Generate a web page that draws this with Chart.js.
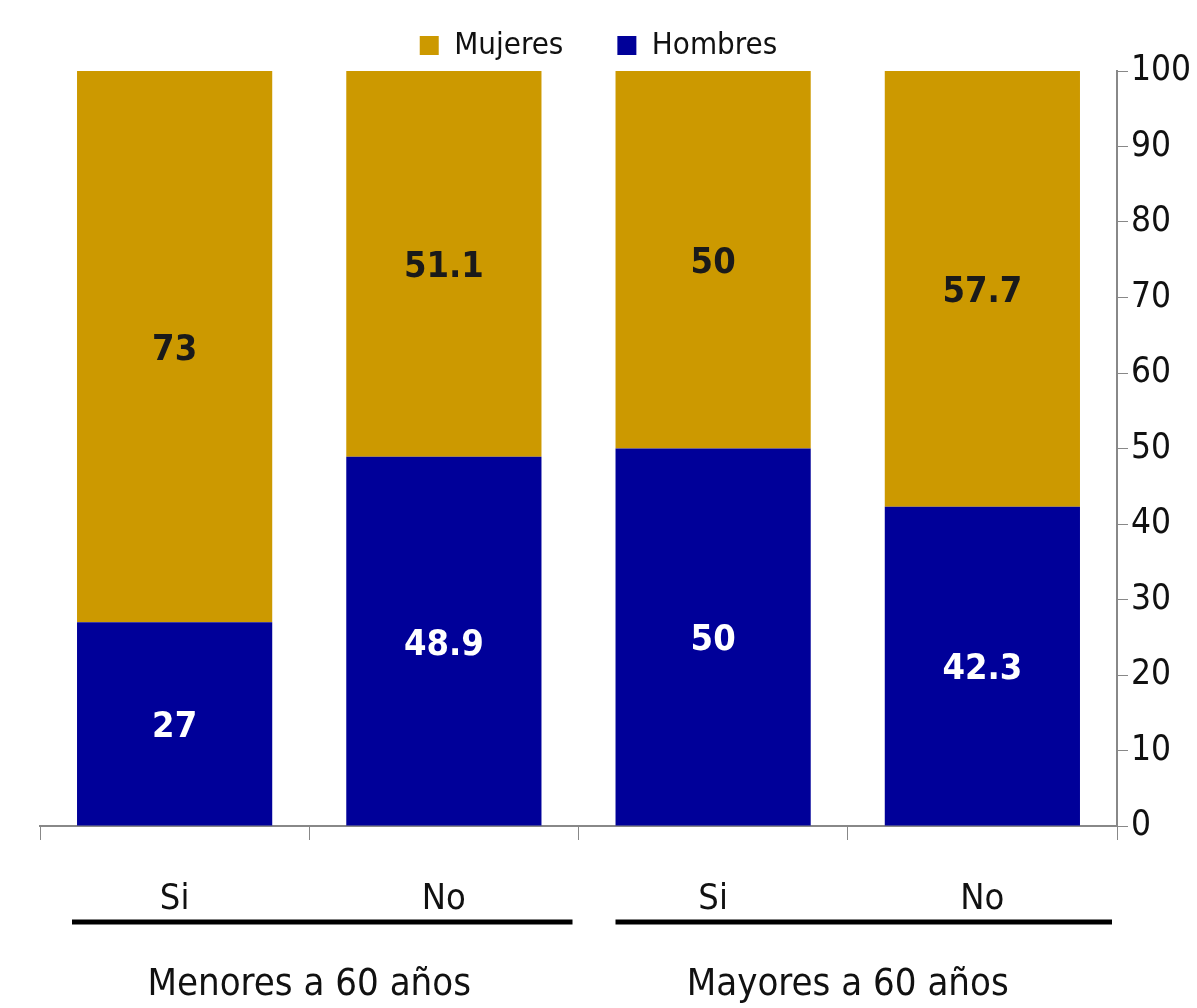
<!DOCTYPE html>
<html>
<head>
<meta charset="utf-8">
<script src="https://cdn.jsdelivr.net/npm/chart.js@4/dist/chart.umd.min.js"></script>
<style>
html,body{margin:0;padding:0;background:#fff;}
#wrap{width:1197px;height:1008px;position:relative;}
</style>
</head>
<body>
<div id="wrap"><canvas id="c" width="1197" height="1008"></canvas></div>
<script>
const categories = ['Si', 'No', 'Si', 'No'];
const groups = ['Menores a 60 años', 'Mayores a 60 años'];
const hombres = [27, 48.9, 50, 42.3];
const mujeres = [73, 51.1, 50, 57.7];
const yTicks = [0, 10, 20, 30, 40, 50, 60, 70, 80, 90, 100];

const NARROW = '"Liberation Sans Narrow", "DejaVu Sans Condensed", sans-serif';

const dataLabels = {
  id: 'dataLabels',
  afterDatasetsDraw(chart) {
    const ctx = chart.ctx;
    ctx.save();
    ctx.font = 'bold 36px ' + NARROW;
    ctx.textAlign = 'center';
    ctx.textBaseline = 'middle';
    chart.data.datasets.forEach((ds, i) => {
      const meta = chart.getDatasetMeta(i);
      meta.data.forEach((el, j) => {
        ctx.fillStyle = ds.labelColor;
        ctx.fillText(String(ds.data[j]), el.x, (el.y + el.base) / 2 + 4);
      });
    });
    ctx.restore();
  }
};

const groupLabels = {
  id: 'groupLabels',
  afterDraw(chart) {
    const ctx = chart.ctx;
    const xs = chart.scales.x;
    const cat = (xs.getPixelForValue(1) - xs.getPixelForValue(0));
    ctx.save();
    ctx.strokeStyle = '#000';
    ctx.lineWidth = 5;
    ctx.fillStyle = '#111';
    ctx.font = '38px ' + NARROW;
    ctx.textAlign = 'center';
    ctx.textBaseline = 'middle';
    groups.forEach((g, k) => {
      const a = xs.getPixelForValue(2 * k) - cat / 2;
      const b = xs.getPixelForValue(2 * k + 1) + cat / 2;
      ctx.beginPath();
      ctx.moveTo(a + (k === 0 ? 32 : 37), 922);
      ctx.lineTo(b - (k === 0 ? 6 : 5), 922);
      ctx.stroke();
      ctx.fillText(g, (a + b) / 2, 985);
    });
    ctx.restore();
  }
};

new Chart(document.getElementById('c'), {
  type: 'bar',
  data: {
    labels: categories,
    datasets: [
      { label: 'Hombres', data: hombres, yAxisID: 'y', backgroundColor: '#000099', labelColor: '#ffffff' },
      { label: 'Mujeres', data: mujeres, yAxisID: 'y', backgroundColor: '#CC9900', labelColor: '#1a1a1a' }
    ]
  },
  options: {
    responsive: false,
    animation: false,
    layout: { padding: { left: 0, right: 0, top: -24, bottom: 0 } },
    datasets: { bar: { categoryPercentage: 1, barPercentage: 0.725 } },
    plugins: {
      legend: {
        position: 'top',
        reverse: true,
        labels: {
          boxWidth: 19, boxHeight: 19, padding: 54,
          color: '#111',
          font: { family: NARROW, size: 31 }
        }
      },
      tooltip: { enabled: false }
    },
    scales: {
      x: {
        stacked: true,
        grid: { drawOnChartArea: false, drawTicks: true, tickLength: 14, color: '#888', offset: true },
        border: { color: '#888', width: 2 },
        ticks: { color: '#111', padding: 38, font: { family: NARROW, size: 36 } },
        afterFit(scale) { scale.height = 182; }
      },
      y: {
        stacked: true,
        position: 'right',
        min: 0, max: 100,
        afterBuildTicks(scale) { scale.ticks = yTicks.map(v => ({ value: v })); },
        grid: { drawOnChartArea: false, drawTicks: true, tickLength: 11, color: '#888' },
        border: { color: '#888', width: 2 },
        ticks: { color: '#111', padding: 3, font: { family: '"DejaVu Sans Condensed", sans-serif', size: 35 } },
        afterFit(scale) { scale.width = 80; }
      },
      yLeft: {
        type: 'linear',
        position: 'left',
        min: 0, max: 100,
        grid: { display: false, drawTicks: false },
        border: { display: false },
        ticks: { display: false },
        afterFit(scale) { scale.width = 40; }
      }
    }
  },
  plugins: [dataLabels, groupLabels]
});
</script>
</body>
</html>
